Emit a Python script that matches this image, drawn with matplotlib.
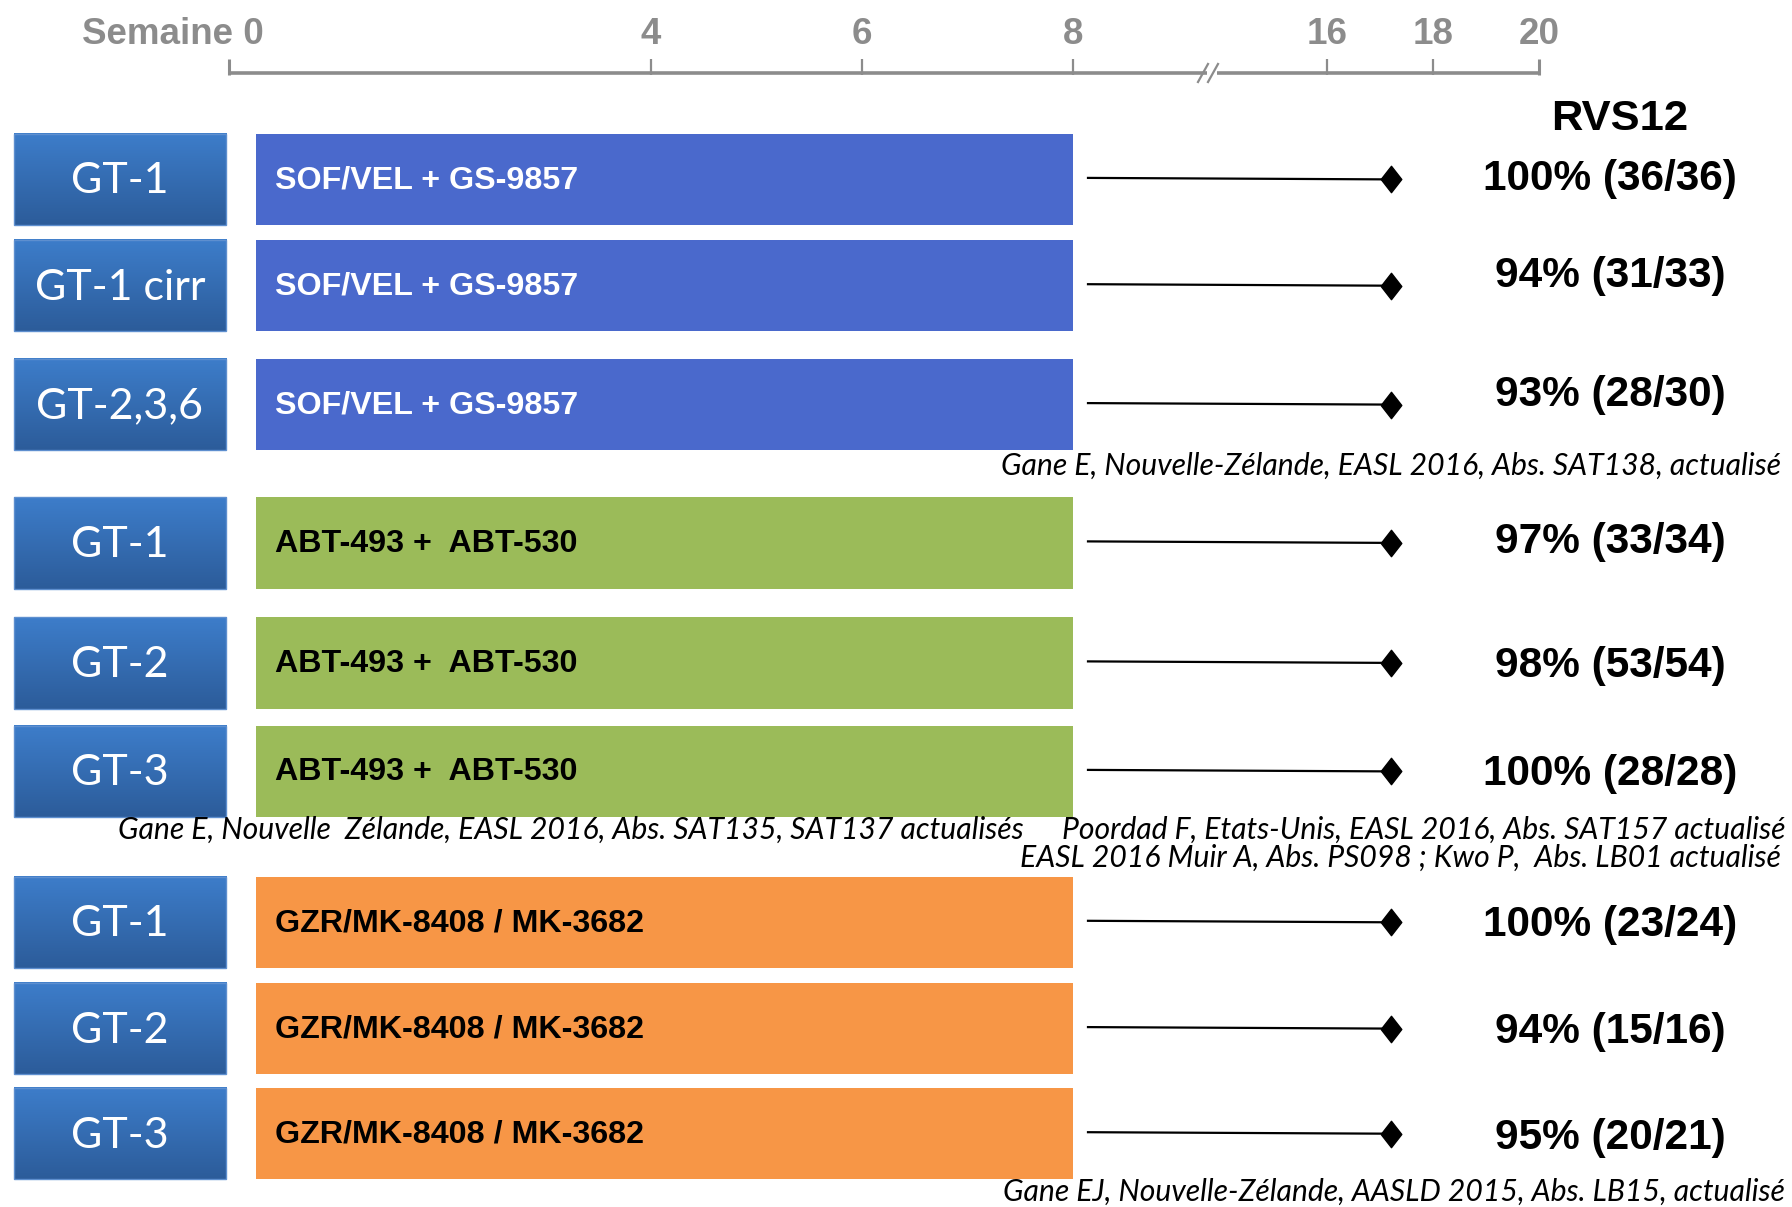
import numpy as np
import matplotlib
matplotlib.use("Agg")
import matplotlib.pyplot as plt
from matplotlib import font_manager
from matplotlib.patches import Rectangle

# ---------------- data ----------------
genotypes = ["GT-1", "GT-1 cirr", "GT-2,3,6",
             "GT-1", "GT-2", "GT-3",
             "GT-1", "GT-2", "GT-3"]
regimens = ["SOF/VEL + GS-9857"] * 3 + ["ABT-493 +  ABT-530"] * 3 + ["GZR/MK-8408 / MK-3682"] * 3
regimen_group = [0, 0, 0, 1, 1, 1, 2, 2, 2]
treatment_weeks = [8, 8, 8, 8, 8, 8, 8, 8, 8]
svr12_pct = [100, 94, 93, 97, 98, 100, 100, 94, 95]
svr12_n = [36, 31, 28, 33, 53, 28, 23, 15, 20]
svr12_total = [36, 33, 30, 34, 54, 28, 24, 16, 21]
svr12_week = 17.2
week_ticks = [0, 4, 6, 8, 16, 18, 20]
week_tick_labels = ["Semaine 0", "4", "6", "8", "16", "18", "20"]
citations = [
    "Gane E, Nouvelle-Zélande, EASL 2016, Abs. SAT138, actualisé",
    "Gane E, Nouvelle  Zélande, EASL 2016, Abs. SAT135, SAT137 actualisés",
    "Poordad F, Etats-Unis, EASL 2016, Abs. SAT157 actualisé",
    "EASL 2016 Muir A, Abs. PS098 ; Kwo P,  Abs. LB01 actualisé",
    "Gane EJ, Nouvelle-Zélande, AASLD 2015, Abs. LB15, actualisé",
]

# ---------------- fonts ----------------
available = {f.name for f in font_manager.fontManager.ttflist}


def pick(*names):
    for n in names:
        if n in available:
            return n
    return "DejaVu Sans"


SANS = pick("Liberation Sans", "Arimo", "DejaVu Sans")
HUMANIST = pick("Lato", "Open Sans", "Noto Sans")

# ---------------- layout (pixel space) ----------------
W, H = 1792, 1207
fig = plt.figure(figsize=(W / 100, H / 100), dpi=100)
ax = fig.add_axes([0, 0, 1, 1])
ax.set_xlim(0, W)
ax.set_ylim(H, 0)
ax.axis("off")

X0, X8 = 228.6, 1073.0      # ruler positions for week 0 and week 8
X16, PER_WEEK_LATE = 1327.0, 53.1


def week_x(w):
    if w <= 8:
        return X0 + w * (X8 - X0) / 8
    return X16 + (w - 16) * PER_WEEK_LATE


row_y = [179.4, 285.7, 404.6, 542.9, 662.9, 771.4, 922.3, 1028.6, 1133.7]
label_dy = [0, -10, -10, -1, 3, 3, 3, 3, 4]
BAR_H = 91.4
BAR_PAD = 27.0
group_colors = ["#4A69CC", "#9BBB59", "#F79646"]
label_colors = ["white", "black", "black"]

# ---------------- week ruler ----------------
grey = "#8C8C8C"
AX_Y = 73
TICK_H = 14
BRK_L, BRK_R = 1207, 1217
ax.plot([week_x(0), BRK_L], [AX_Y, AX_Y], color=grey, lw=2.6, solid_capstyle="butt")
ax.plot([BRK_R, week_x(20)], [AX_Y, AX_Y], color=grey, lw=2.6, solid_capstyle="butt")
for dx in (BRK_L - 5, BRK_R - 5):
    ax.plot([dx - 4, dx + 6], [AX_Y + 9, AX_Y - 9], color=grey, lw=1.6)
for w, lab in zip(week_ticks, week_tick_labels):
    x = week_x(w)
    ax.plot([x, x], [AX_Y + 1.5, AX_Y - TICK_H], color=grey, lw=2.2 if w in (0, 20) else 1.6,
            solid_capstyle="butt")
    if w == 0:
        ax.text(x + 35, 34, lab, ha="right", va="center", fontsize=26.5,
                fontweight="bold", color=grey, family=SANS)
    else:
        ax.text(x, 34, lab, ha="center", va="center", fontsize=26.5,
                fontweight="bold", color=grey, family=SANS)

# ---------------- genotype boxes ----------------
grad = np.linspace(0, 1, 64)[:, None, None]
top_c = np.array([0x3D, 0x7D, 0xCA]) / 255
bot_c = np.array([0x2C, 0x5C, 0x9A]) / 255
grad_img = top_c * (1 - grad) + bot_c * grad
grad_img = np.repeat(grad_img, 2, axis=1)
BOX_L, BOX_R = 13.7, 226.0
for yc, gt in zip(row_y, genotypes):
    y_top, y_bot = yc - BAR_H / 2, yc + BAR_H / 2
    ax.imshow(grad_img, extent=(BOX_L, BOX_R, y_bot, y_top), aspect="auto",
              interpolation="bilinear", zorder=2)
    ax.add_patch(Rectangle((BOX_L, y_top), BOX_R - BOX_L, BAR_H, fill=False,
                           edgecolor="#5E8FCF", lw=1.0, zorder=3))
    ax.text((BOX_L + BOX_R) / 2, yc + 2, gt, ha="center", va="center",
            fontsize=31, color="white", family=HUMANIST, zorder=4)

# ---------------- treatment bars ----------------
bar_left = week_x(0) + BAR_PAD
bar_width = [week_x(w) - bar_left for w in treatment_weeks]
ax.barh(row_y, bar_width, left=bar_left, height=BAR_H,
        color=[group_colors[g] for g in regimen_group], zorder=2)
for yc, reg, g in zip(row_y, regimens, regimen_group):
    ax.text(bar_left + 19, yc + 1, reg, ha="left", va="center", fontsize=23.2,
            fontweight="bold", color=label_colors[g], family=SANS, zorder=4)

# ---------------- follow-up lines and SVR12 ----------------
dia = [(-0.78, 0), (0, 1), (0.78, 0), (0, -1), (-0.78, 0)]
for i, yc in enumerate(row_y):
    x_start = week_x(treatment_weeks[i]) + 15
    x_end = week_x(svr12_week)
    ax.plot([x_start, x_end], [yc - 1.5, yc], color="black", lw=1.6, zorder=3)
    ax.plot([x_end], [yc], marker=dia, markersize=19, color="black", zorder=4)
    txt = f"{svr12_pct[i]}% ({svr12_n[i]}/{svr12_total[i]})"
    ax.text(1610, yc + label_dy[i], txt, ha="center", va="center", fontsize=30.5,
            fontweight="bold", color="black", family=SANS)

ax.text(1620, 119, "RVS12", ha="center", va="center", fontsize=31.3,
        fontweight="bold", color="black", family=SANS)

# ---------------- references ----------------
cit_kw = dict(fontsize=21.7, style="italic", color="black", family=HUMANIST, va="center")
ax.text(1781, 466, citations[0], ha="right", **cit_kw)
ax.text(118, 830, citations[1], ha="left", **cit_kw)
ax.text(1786, 830, citations[2], ha="right", **cit_kw)
ax.text(1781, 858, citations[3], ha="right", **cit_kw)
ax.text(1785, 1192, citations[4], ha="right", **cit_kw)

ax.set_xlim(0, W)
ax.set_ylim(H, 0)
fig.savefig("out.png", dpi=100, facecolor="white")
